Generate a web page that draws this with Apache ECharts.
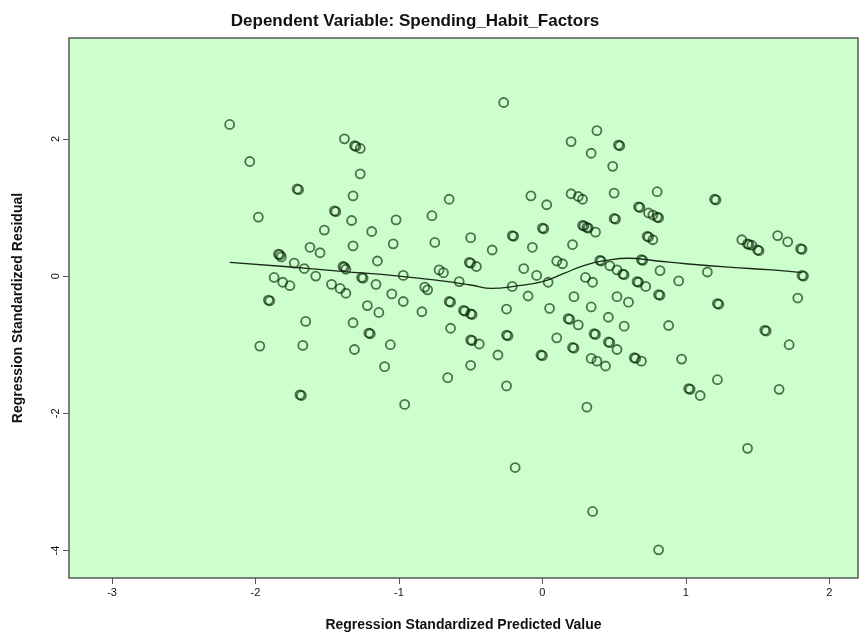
<!DOCTYPE html>
<html>
<head>
<meta charset="utf-8">
<script src="https://cdn.jsdelivr.net/npm/echarts@6/dist/echarts.min.js"></script>
<style>html,body{margin:0;padding:0;background:#fff}#c{width:863px;height:642px}</style>
</head>
<body>
<div id="c"></div>
<script>
// Standardized predicted values (x) and standardized residuals (y)
var predicted = [
-2.18,-2.04,-1.71,-1.70,-1.98,-1.38,-1.31,-1.30,-1.27,-1.27,-1.32,-1.45,-1.44,-1.33,-1.02,-1.52,-1.19,-1.62,-1.55,-1.32,-1.04,
-1.84,-1.83,-1.82,-1.15,-1.73,-1.66,-1.39,-1.38,-1.37,-1.26,-1.25,-0.97,-1.58,-1.87,-1.81,-1.76,-1.47,-1.41,-1.16,-1.37,-1.05,
-0.97,-1.91,-1.90,-1.22,-1.14,-1.65,-1.32,-1.21,-1.20,-1.97,-1.67,-1.31,-1.06,-1.10,-1.69,-1.68,-0.96,
-0.27,0.38,0.20,0.34,0.53,0.54,0.49,-0.65,-0.08,0.03,0.20,0.25,0.28,0.50,-0.77,0.00,0.01,0.28,0.29,0.31,0.32,0.37,0.50,0.51,
-0.75,-0.50,-0.21,-0.20,-0.35,-0.07,0.21,-0.72,-0.69,-0.51,-0.50,-0.46,-0.13,0.10,0.14,0.40,0.41,0.47,0.52,-0.58,-0.04,0.04,
0.30,0.35,-0.21,-0.82,-0.80,-0.65,-0.64,-0.84,-0.55,-0.54,-0.50,-0.49,-0.25,-0.10,0.05,0.22,0.34,0.46,0.18,0.19,0.25,0.52,
-0.64,-0.50,-0.49,-0.44,-0.25,-0.24,0.10,0.36,0.37,0.46,0.47,0.52,0.21,0.22,-0.31,-0.01,0.00,-0.50,0.34,0.38,0.44,-0.66,-0.25,
0.31,-0.19,0.35,0.81,1.43,
0.80,1.20,1.21,0.67,0.68,0.74,0.77,0.80,0.81,0.73,0.74,0.77,1.39,1.43,1.44,1.46,1.50,1.51,1.64,1.71,1.80,1.81,0.69,0.70,
1.81,1.82,0.82,1.15,0.95,0.66,0.67,0.72,0.56,0.57,
0.81,0.82,0.60,1.22,1.23,1.78,0.57,0.88,1.55,1.56,1.72,0.64,0.65,0.69,0.97,1.02,1.03,1.10,1.22,1.65
];
var residual = [
2.21,1.67,1.27,1.26,0.86,2.00,1.90,1.89,1.86,1.49,1.17,0.95,0.94,0.81,0.82,0.67,0.65,0.42,0.34,0.44,0.47,
0.32,0.31,0.28,0.22,0.19,0.11,0.14,0.13,0.10,-0.02,-0.03,0.01,0.00,-0.02,-0.09,-0.14,-0.12,-0.18,-0.12,-0.25,-0.26,
-0.37,-0.35,-0.36,-0.43,-0.53,-0.66,-0.68,-0.83,-0.84,-1.02,-1.01,-1.07,-1.00,-1.32,-1.73,-1.74,-1.87,
2.53,2.12,1.96,1.79,1.91,1.90,1.60,1.12,1.17,1.04,1.20,1.16,1.12,1.21,0.88,0.70,0.69,0.74,0.73,0.71,0.70,0.64,0.84,0.83,
0.49,0.56,0.59,0.58,0.38,0.42,0.46,0.09,0.05,0.20,0.19,0.14,0.11,0.22,0.18,0.23,0.22,0.15,0.09,-0.08,0.01,-0.09,
-0.02,-0.09,-0.15,-0.16,-0.20,-0.37,-0.38,-0.52,-0.50,-0.51,-0.55,-0.56,-0.48,-0.29,-0.47,-0.30,-0.45,-0.60,-0.62,-0.63,-0.71,-0.30,
-0.76,-0.93,-0.94,-0.99,-0.86,-0.87,-0.90,-0.84,-0.85,-0.96,-0.97,-1.07,-1.04,-1.05,-1.15,-1.15,-1.16,-1.30,-1.20,-1.24,-1.31,-1.48,-1.60,
-1.91,-2.79,-3.43,-3.99,-2.51,
1.23,1.12,1.11,1.01,1.00,0.92,0.89,0.86,0.85,0.58,0.57,0.53,0.53,0.47,0.46,0.45,0.38,0.37,0.59,0.50,0.40,0.39,0.24,0.23,
0.01,0.00,0.08,0.06,-0.07,-0.08,-0.09,-0.15,0.03,0.02,
-0.27,-0.28,-0.38,-0.40,-0.41,-0.32,-0.73,-0.72,-0.79,-0.80,-1.00,-1.19,-1.20,-1.24,-1.21,-1.64,-1.65,-1.74,-1.51,-1.65
];
// Loess fit line
var fitX = [-2.18,-1.8,-1.4,-1.0,-0.7,-0.5,-0.35,-0.2,0.0,0.15,0.3,0.45,0.6,0.8,1.0,1.3,1.6,1.81];
var fitY = [0.20,0.14,0.07,0.00,-0.07,-0.13,-0.18,-0.15,-0.08,0.04,0.16,0.23,0.26,0.22,0.18,0.13,0.09,0.05];
var xTicks = [-3,-2,-1,0,1,2];
var yTicks = [-4,-2,0,2];

var pts = predicted.map(function(x,i){return [x, residual[i]];});
var fit = fitX.map(function(x,i){return [x, fitY[i]];});

var chart = echarts.init(document.getElementById('c'));
chart.setOption({
  animation:false,
  backgroundColor:'#ffffff',
  title:{text:'Dependent Variable: Spending_Habit_Factors',left:410,top:8,textAlign:'center',
    textStyle:{fontFamily:'Liberation Sans, Arial, sans-serif',fontSize:17,fontWeight:'bold',color:'#111'}},
  grid:{left:69,right:5,top:38,bottom:64,show:true,backgroundColor:'#ccffcc',borderColor:'#555',borderWidth:1.5},
  xAxis:{type:'value',min:-3.3,max:2.2,
    name:'Regression Standardized Predicted Value',nameLocation:'middle',nameGap:40,
    nameTextStyle:{fontFamily:'Liberation Sans, Arial, sans-serif',fontSize:14,fontWeight:'bold',color:'#111'},
    axisLine:{show:false,onZero:false},splitLine:{show:false},
    axisTick:{show:true,inside:false,length:6,lineStyle:{color:'#555'},customValues:xTicks},
    axisLabel:{customValues:xTicks,margin:9,fontFamily:'Liberation Sans, Arial, sans-serif',fontSize:11,color:'#111'}},
  yAxis:{type:'value',min:-4.4,max:3.47,
    name:'Regression Standardized Residual',nameLocation:'middle',nameGap:44,
    nameTextStyle:{fontFamily:'Liberation Sans, Arial, sans-serif',fontSize:14,fontWeight:'bold',color:'#111'},
    axisLine:{show:false,onZero:false},splitLine:{show:false},
    axisTick:{show:true,inside:false,length:6,lineStyle:{color:'#555'},customValues:yTicks},
    axisLabel:{customValues:yTicks,rotate:90,margin:8,fontFamily:'Liberation Sans, Arial, sans-serif',fontSize:11,color:'#111'}},
  series:[
    {type:'scatter',data:pts,symbol:'circle',symbolSize:9,
      itemStyle:{color:'rgba(0,0,0,0)',borderColor:'rgba(5,35,5,0.8)',borderWidth:1.8},z:2},
    {type:'line',data:fit,smooth:true,showSymbol:false,symbol:'none',
      lineStyle:{color:'#1a2a1a',width:1.3},z:3}
  ]
});
</script>
</body>
</html>
